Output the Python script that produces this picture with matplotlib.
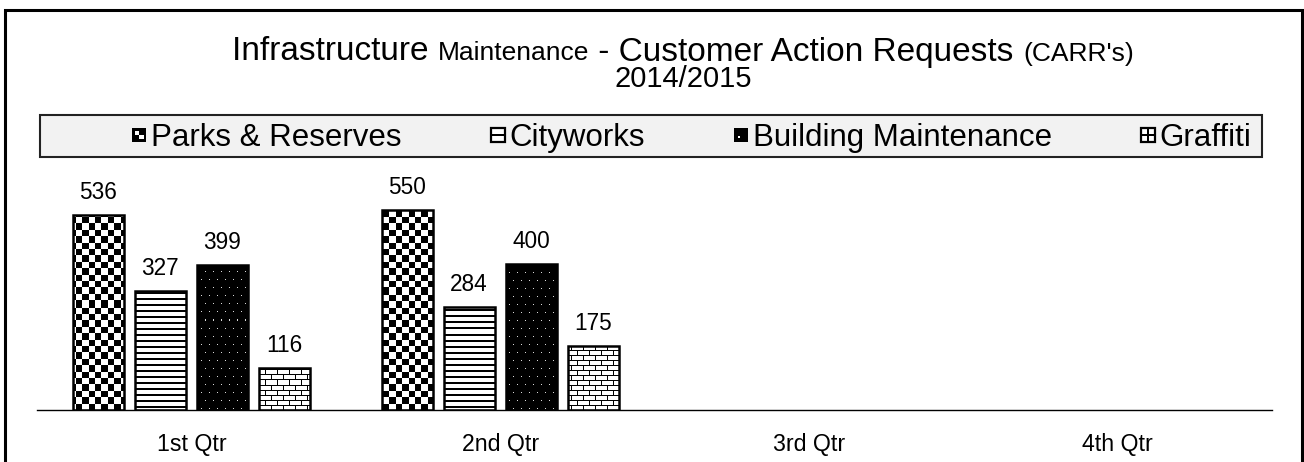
import numpy as np
import matplotlib
matplotlib.use("Agg")
import matplotlib.pyplot as plt
from matplotlib.patches import Patch, Rectangle
from matplotlib.legend_handler import HandlerBase
from matplotlib.offsetbox import TextArea, HPacker, AnchoredOffsetbox

plt.rcParams["font.family"] = ["Liberation Sans", "DejaVu Sans"]

quarters = ["1st Qtr", "2nd Qtr", "3rd Qtr", "4th Qtr"]
series = ["Parks & Reserves", "Cityworks", "Building Maintenance", "Graffiti"]
parks = [536, 550, None, None]
cityworks = [327, 284, None, None]
building = [399, 400, None, None]
graffiti = [116, 175, None, None]
values = [parks, cityworks, building, graffiti]

W, H = 1304, 462
fig = plt.figure(figsize=(W / 100, H / 100), dpi=100)
ax = fig.add_axes([37 / W, 52 / H, 1235 / W, 250 / H])

# pixel textures (approximate Excel pattern fills)
aw, ah = 1235, 250
yy, xx = np.mgrid[0:ah, 0:aw]
tex_checker = ((np.floor(yy / 6.4) + np.floor(xx / 6.4)) % 2).astype(float)
tex_stripes = np.where(yy % 6 < 2, 0.0, 1.0)
tex_dots = np.zeros((ah, aw))
tex_dots[(yy % 8 == 0) & (xx % 8 == np.where((yy // 8) % 2 == 0, 0, 4))] = 0.85
row = yy % 10
tex_brick = np.ones((ah, aw))
tex_brick[(row == 0) | (row == 5)] = 0.0
tex_brick[(row < 5) & (xx % 12 == 0)] = 0.0
tex_brick[(row > 5) & (xx % 12 == 6)] = 0.0
textures = [tex_checker, tex_stripes, tex_dots, tex_brick]

x = np.arange(len(quarters))
bw, step = 0.165, 0.2008
for k, (vals, tex) in enumerate(zip(values, textures)):
    pos = x + (k - 1.5) * step
    for p, v in zip(pos, vals):
        if v is None:
            continue
        bar = ax.bar(p, v, width=bw, facecolor="white", edgecolor="none", zorder=1)[0]
        im = ax.imshow(tex, cmap="gray", vmin=0, vmax=1, interpolation="nearest",
                       extent=(0, 1, 0, 1), transform=ax.transAxes, aspect="auto", zorder=2)
        im.set_clip_path(bar)
        ax.bar(p, v, width=bw, fill=False, edgecolor="black", linewidth=1.8, zorder=3)
        ax.annotate(str(v), (p, v), xytext=(0, 8), textcoords="offset points",
                    ha="center", va="bottom", fontsize=16.3)

ax.set_xlim(-0.5, 3.5)
ax.set_ylim(0, 687)
ax.set_xticks(x)
ax.set_xticklabels(quarters, fontsize=16.7)
ax.tick_params(axis="x", length=0, pad=16.5)
ax.set_yticks([])
for s in ["top", "left", "right"]:
    ax.spines[s].set_visible(False)
ax.spines["bottom"].set_linewidth(1.0)
ax.patch.set_alpha(0)

# title with mixed font sizes
big, small = 24, 19
parts = [("Infrastructure ", big), ("Maintenance", small),
         (" - Customer Action Requests ", big), ("(CARR's)", small)]
boxes = [TextArea(t, textprops=dict(fontsize=s)) for t, s in parts]
line1 = HPacker(children=boxes, align="baseline", pad=0, sep=0)
fig.add_artist(AnchoredOffsetbox(loc="center", child=line1, frameon=False, pad=0,
                                 bbox_to_anchor=(683 / W, 1 - 52 / H),
                                 bbox_transform=fig.transFigure, borderpad=0))
fig.text(683 / W, 1 - 79 / H, "2014/2015", ha="center", va="center", fontsize=21)


class HandlerIcon(HandlerBase):
    """Small square legend icon in the style of the Excel pattern swatches."""

    def __init__(self, kind):
        super().__init__()
        self.kind = kind

    def create_artists(self, legend, orig_handle, xdescent, ydescent, width, height,
                       fontsize, trans):
        s = min(width, height)
        x0, y0 = -xdescent + (width - s) / 2, -ydescent + (height - s) / 2
        out = []

        def rect(a, b, w, h, fc, ec="none", lw=0):
            out.append(Rectangle((x0 + a * s, y0 + b * s), w * s, h * s, facecolor=fc,
                                 edgecolor=ec, linewidth=lw, transform=trans))

        if self.kind == "parks":
            rect(0, 0, 1, 1, "black")
            rect(0.2, 0.5, 0.3, 0.3, "white")
            rect(0.5, 0.2, 0.3, 0.3, "white")
        elif self.kind == "city":
            rect(0, 0, 1, 1, "white", "black", 1.6)
            rect(0, 0.42, 1, 0.16, "black")
        elif self.kind == "building":
            rect(0, 0, 1, 1, "black")
            rect(0.3, 0.3, 0.12, 0.12, "white")
        else:
            rect(0, 0, 1, 1, "white", "black", 1.6)
            rect(0, 0.44, 1, 0.12, "black")
            rect(0.44, 0, 0.12, 1, "black")
        return out


# legend box and entries
fig.add_artist(Rectangle((40 / W, 1 - 157 / H), 1222 / W, 42 / H, transform=fig.transFigure,
                         facecolor="#f2f2f2", edgecolor="#222222", linewidth=1.5))
kinds = ["parks", "city", "building", "graffiti"]
handles = [Patch(facecolor="white") for _ in series]
fig.legend(handles, series, loc="center", bbox_to_anchor=(692 / W, 1 - 138 / H),
           ncol=4, frameon=False, fontsize=22.5, handlelength=0.45, handleheight=0.45,
           handletextpad=0.15, columnspacing=2.85, borderaxespad=0, borderpad=0,
           handler_map={h: HandlerIcon(k) for h, k in zip(handles, kinds)})

# outer frame
fig.add_artist(Rectangle((5 / W, -0.1), 1297 / W, 1.1 - 10 / H, transform=fig.transFigure,
                         fill=False, edgecolor="black", linewidth=2.2))

fig.savefig("out.png", dpi=100)
